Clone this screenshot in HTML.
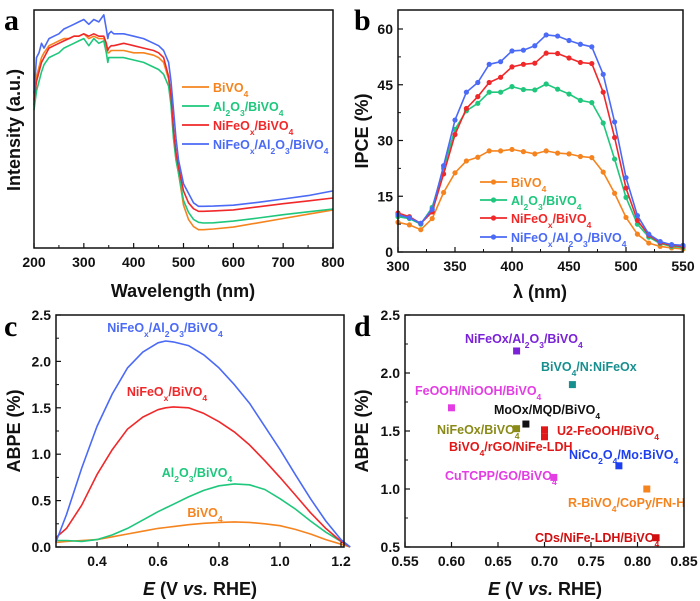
<!DOCTYPE html>
<html><head><meta charset="utf-8"><style>
body{margin:0;background:#fff}
svg{display:block;font-family:"Liberation Sans",Arial,sans-serif;font-weight:bold}
.tk{font-size:14px}
.tt{font-size:18px}
.lg{font-size:12.5px}
.pl{font-family:"Liberation Serif",serif;font-size:30px;font-weight:bold}
</style></head><body>
<svg id="fig" width="700" height="601" viewBox="0 0 700 601">
<text class="pl" x="4" y="30">a</text>
<text class="pl" x="354" y="30">b</text>
<text class="pl" x="4" y="336">c</text>
<text class="pl" x="354" y="336">d</text>
</svg>
<script>
// ---- Panel a data ----
const aX=[200,205,210,215,220,230,240,250,260,270,280,290,300,310,320,330,340,345,348,350,355,360,380,400,420,440,450,460,470,475,480,485,490,500,510,520,530,540,560,600,650,700,750,800];
const aBlue=[65,80,82,86,84,88,89,90,92,93,94,95,96,94,96,95,98,92,88,90,91,90,90,89,88,86,85,83,78,70,58,46,37,27,23,19,17.5,17.5,17.6,18,19.2,20.6,22,24];
const aRed=[62,70,74,78,80,84,85,86,87,88,89,89,90,89,90,89,89,86,83,84,85,85,86,85,84,83,82,80,72,64,50,40,34,24,19,16.5,15.4,15.4,15.6,16,17.3,18.6,19.8,21];
const aOrange=[60,72,76,80,82,85,86,87,88,88,89,89,90,88,89,88,88,84,82,82,83,83,83,82,82,81,80,78,71,62,47,37,31.5,18,12,9,7.7,7.7,8,8.8,10.6,12.4,14.2,16];
const aGreen=[58,66,70,74,77,80,81,82,84,85,86,87,88,85,88,86,87,82,78,80,80,80,80,79,78,76,75,73,68,60,46,37,31.5,20,15,12,10.8,10.5,10.6,11.3,12.6,14,15.2,16.4];
const aTicks=[200,300,400,500,600,700,800];
// ---- Panel b data ----
const bX=[300,310,320,330,340,350,360,370,380,390,400,410,420,430,440,450,460,470,480,490,500,510,520,530,540,550];
const bOrange=[8,7.3,6,9,16,21.3,24.5,25.5,27.2,27.2,27.6,27,26.4,27.2,26.6,26.4,25.7,25.4,21.5,15.8,9.3,4.8,2.4,1.5,1.1,0.8];
const bGreen=[9.5,9,7.5,12,22.5,33,38,40,43,43,44.5,43.7,43.6,45.2,43.8,42.5,40.8,40.2,34.7,25,14.7,7.5,4,2.3,1.5,1.2];
const bRed=[10.5,9.5,7.7,10.8,21,31.6,38.6,41.8,45.6,47,49.8,50.5,50.8,53.5,53.4,52.2,51,50.7,43,30.8,17.2,8.5,4.5,2.5,1.8,1.5];
const bBlue=[10,9.2,7.7,11.5,23.2,35.5,43,45.6,50.5,51.2,54.1,54.3,55.5,58.4,58.1,56.9,55.9,55.2,47.8,35,20,9.8,4.8,2.8,2,1.8];
const bXTicks=[300,350,400,450,500,550];
const bYTicks=[0,15,30,45,60];
// ---- Panel c data ----
const cX=[0.265,0.3,0.35,0.4,0.45,0.5,0.55,0.6,0.625,0.65,0.7,0.75,0.8,0.85,0.9,0.95,1.0,1.05,1.1,1.15,1.2,1.23];
const cBlue=[0.05,0.35,0.85,1.3,1.65,1.93,2.1,2.2,2.22,2.21,2.17,2.07,1.93,1.75,1.55,1.3,1.05,0.78,0.52,0.28,0.08,0];
const cRed=[0.1,0.2,0.45,0.78,1.05,1.27,1.4,1.48,1.5,1.51,1.5,1.44,1.35,1.24,1.1,0.93,0.75,0.56,0.37,0.2,0.06,0];
const cGreen=[0.07,0.07,0.06,0.08,0.13,0.2,0.29,0.38,0.42,0.46,0.54,0.61,0.66,0.68,0.67,0.62,0.52,0.41,0.28,0.16,0.06,0];
const cOrange=[0.05,0.06,0.07,0.08,0.11,0.14,0.17,0.2,0.21,0.22,0.24,0.255,0.265,0.27,0.265,0.25,0.23,0.19,0.14,0.08,0.03,0];
const cXTicks=[0.4,0.6,0.8,1.0,1.2];
const cYTicks=[0,0.5,1.0,1.5,2.0,2.5];
// ---- Panel d data ----
const dNames=["NiFeOx/Al2O3/BiVO4","BiVO4/N:NiFeOx","FeOOH/NiOOH/BiVO4","MoOx/MQD/BiVO4","NiFeOx/BiVO4","U2-FeOOH/BiVO4","BiVO4/rGO/NiFe-LDH","NiCo2O4/Mo:BiVO4","CuTCPP/GO/BiVO4","R-BiVO4/CoPy/FN-H","CDs/NiFe-LDH/BiVO4"];
const dE=[0.67,0.73,0.60,0.68,0.67,0.70,0.70,0.78,0.71,0.81,0.82];
const dABPE=[2.19,1.90,1.70,1.56,1.52,1.51,1.45,1.20,1.10,1.00,0.58];
const dXTicks=[0.55,0.60,0.65,0.70,0.75,0.80,0.85];
const dYTicks=[0.5,1.0,1.5,2.0,2.5];

const NS="http://www.w3.org/2000/svg";
const svg=document.getElementById('fig');
function mk(tag,attrs,parent,txt){const e=document.createElementNS(NS,tag);for(const k in attrs)e.setAttribute(k,attrs[k]);if(txt!==undefined)e.innerHTML=txt;(parent||svg).appendChild(e);return e;}
function lin(d0,d1,p0,p1){return v=>p0+(v-d0)/(d1-d0)*(p1-p0);}
const C={o:"#f5841f",g:"#1ec77c",r:"#f0282a",b:"#4b6af5",k:"#111"};

function frame(name,x0,y0,x1,y1){
  const r=mk('rect',{x:x0,y:y0,width:x1-x0,height:y1-y0,fill:'none',stroke:'#111','stroke-width':1.5});
  
  
}
function xAxis(name,ticks,sx,y0,y1,fmt,minor){
  const g=mk('g',{});
  
  
  ticks.forEach((t,i)=>{
    const x=sx(t);
    mk('line',{x1:x,x2:x,y1:y1,y2:y1-5,stroke:'#111','stroke-width':1.2},g);
    const tx=mk('text',{x:x,y:y1+19,'text-anchor':'middle',class:'tk',fill:'#111'},g,fmt(t));
    
    
    if(minor&&i<ticks.length-1){const xm=sx((t+ticks[i+1])/2);mk('line',{x1:xm,x2:xm,y1:y1,y2:y1-3,stroke:'#111','stroke-width':1},g);}
  });
}
function yAxis(name,ticks,sy,x0,fmt){
  const g=mk('g',{});
  
  
  ticks.forEach((t,i)=>{
    const y=sy(t);
    mk('line',{x1:x0,x2:x0+5,y1:y,y2:y,stroke:'#111','stroke-width':1.2},g);
    const tx=mk('text',{x:x0-5,y:y+5,'text-anchor':'end',class:'tk',fill:'#111'},g,fmt(t));
    
    
    if(i<ticks.length-1){const ym=sy((t+ticks[i+1])/2);mk('line',{x1:x0,x2:x0+3,y1:ym,y2:ym,stroke:'#111','stroke-width':1},g);}
  });
}
function series(name,xs,ys,sx,sy,color,w,dots){
  const d=xs.map((x,i)=>(i?'L':'M')+sx(x).toFixed(1)+','+sy(ys[i]).toFixed(1)).join('');
  const p=mk('path',{d:d,fill:'none',stroke:color,'stroke-width':w||1.6,'stroke-linejoin':'round'});
  
  
  if(dots) xs.forEach((x,i)=>{
    const c=mk('circle',{cx:sx(x),cy:sy(ys[i]),r:2.6,fill:color});
    
    
  });
}
function title(name,txt,x,y,rot){
  const t=mk('text',{x:x,y:y,'text-anchor':'middle',class:'tt',fill:'#111',transform:rot?`rotate(-90 ${x} ${y})`:''},svg,txt);
  
  
}
function legend(name,x,y,color,html,dot){
  const g=mk('g',{});
  
  
  mk('line',{x1:x,x2:x+27,y1:y,y2:y,stroke:color,'stroke-width':1.8},g);
  if(dot)mk('circle',{cx:x+13.5,cy:y,r:2.6,fill:color},g);
  mk('text',{x:x+31,y:y+5,class:'lg',fill:color},g,html);
}
function lbl(name,x,y,color,html,anchor){
  const t=mk('text',{x:x,y:y,class:'lg',fill:color,'text-anchor':anchor||'start'},svg,html);
  
  
}
const S=s=>`<tspan font-size="8.5" baseline-shift="sub">${s}</tspan>`;

// Panel a
{const sx=lin(200,800,34,333), sy=lin(0,100,248,10);
 series('a-bivo4',aX,aOrange,sx,sy,C.o);
 series('a-al2o3-bivo4',aX,aGreen,sx,sy,C.g);
 series('a-nifeox-bivo4',aX,aRed,sx,sy,C.r);
 series('a-nifeox-al2o3-bivo4',aX,aBlue,sx,sy,C.b);
 frame('panel-a',34,10,333,248);
 xAxis('panel-a',aTicks,sx,10,248,t=>t,true);
 title('a-x-axis-title','Wavelength (nm)',183,297);
 title('a-y-axis-title','Intensity (a.u.)',20,130,true);
 legend('a-legend-bivo4',182,87,C.o,'BiVO'+S('4'));
 legend('a-legend-al2o3-bivo4',182,106,C.g,'Al'+S('2')+'O'+S('3')+'/BiVO'+S('4'));
 legend('a-legend-nifeox-bivo4',182,125,C.r,'NiFeO'+S('x')+'/BiVO'+S('4'));
 legend('a-legend-nifeox-al2o3-bivo4',182,144,C.b,'NiFeO'+S('x')+'/Al'+S('2')+'O'+S('3')+'/BiVO'+S('4'));
}
// Panel b
{const sx=lin(300,550,398,683), sy=lin(0,60,252,29);
 series('b-bivo4',bX,bOrange,sx,sy,C.o,1.6,true);
 series('b-al2o3-bivo4',bX,bGreen,sx,sy,C.g,1.6,true);
 series('b-nifeox-bivo4',bX,bRed,sx,sy,C.r,1.6,true);
 series('b-nifeox-al2o3-bivo4',bX,bBlue,sx,sy,C.b,1.6,true);
 frame('panel-b',398,10,683,252);
 xAxis('panel-b',bXTicks,sx,10,252,t=>t,true);
 yAxis('panel-b',bYTicks,sy,398,t=>t);
 title('b-x-axis-title','λ (nm)',540,298);
 title('b-y-axis-title','IPCE (%)',368,131,true);
 legend('b-legend-bivo4',480,182,C.o,'BiVO'+S('4'),true);
 legend('b-legend-al2o3-bivo4',480,200,C.g,'Al'+S('2')+'O'+S('3')+'/BiVO'+S('4'),true);
 legend('b-legend-nifeox-bivo4',480,218,C.r,'NiFeO'+S('x')+'/BiVO'+S('4'),true);
 legend('b-legend-nifeox-al2o3-bivo4',480,237,C.b,'NiFeO'+S('x')+'/Al'+S('2')+'O'+S('3')+'/BiVO'+S('4'),true);
}
// Panel c
{const sx=lin(0.4,1.2,97,341), sy=lin(0,2.5,547,315);
 series('c-bivo4',cX,cOrange,sx,sy,C.o);
 series('c-al2o3-bivo4',cX,cGreen,sx,sy,C.g);
 series('c-nifeox-bivo4',cX,cRed,sx,sy,C.r);
 series('c-nifeox-al2o3-bivo4',cX,cBlue,sx,sy,C.b);
 frame('panel-c',56,315,344,547);
 xAxis('panel-c',cXTicks,sx,315,547,t=>t.toFixed(1),true);
 yAxis('panel-c',cYTicks,sy,56,t=>t.toFixed(1));
 title('c-x-axis-title','<tspan font-style="italic">E</tspan> (V <tspan font-style="italic">vs.</tspan> RHE)',200,595);
 title('c-y-axis-title','ABPE (%)',20,431,true);
 lbl('c-label-nifeox-al2o3-bivo4',165,332,C.b,'NiFeO'+S('x')+'/Al'+S('2')+'O'+S('3')+'/BiVO'+S('4'),'middle');
 lbl('c-label-nifeox-bivo4',167,396,C.r,'NiFeO'+S('x')+'/BiVO'+S('4'),'middle');
 lbl('c-label-al2o3-bivo4',197,477,C.g,'Al'+S('2')+'O'+S('3')+'/BiVO'+S('4'),'middle');
 lbl('c-label-bivo4',205,517,C.o,'BiVO'+S('4'),'middle');
}
// Panel d
{const sx=lin(0.55,0.85,405,684), sy=lin(0.5,2.5,547,315);
 const cols=["#7a22d8","#188f8f","#e33de3","#111","#8a8a18","#e01818","#e01818","#1d3ff0","#e33de3","#f5841f","#d01010"];
 const lx=[465,541,415,494,437,557,449,569,445,568,535];
 const ly=[343,371,395,414,434,435,451,459,480,507,542];
 const html=["NiFeOx/Al"+S('2')+"O"+S('3')+"/BiVO"+S('4'),"BiVO"+S('4')+"/N:NiFeOx","FeOOH/NiOOH/BiVO"+S('4'),"MoOx/MQD/BiVO"+S('4'),"NiFeOx/BiVO"+S('4'),"U2-FeOOH/BiVO"+S('4'),"BiVO"+S('4')+"/rGO/NiFe-LDH","NiCo"+S('2')+"O"+S('4')+"/Mo:BiVO"+S('4'),"CuTCPP/GO/BiVO"+S('4'),"R-BiVO"+S('4')+"/CoPy/FN-H","CDs/NiFe-LDH/BiVO"+S('4')];
 dE.forEach((e,i)=>{
   const r=mk('rect',{x:sx(e)-3.5,y:sy(dABPE[i])-3.5,width:7,height:7,fill:cols[i]});
   
   
   lbl('d-label',lx[i],ly[i],cols[i],html[i]);
 });
 frame('panel-d',405,315,684,547);
 xAxis('panel-d',dXTicks,sx,315,547,t=>t.toFixed(2),false);
 yAxis('panel-d',dYTicks,sy,405,t=>t.toFixed(1));
 title('d-x-axis-title','<tspan font-style="italic">E</tspan> (V <tspan font-style="italic">vs.</tspan> RHE)',545,595);
 title('d-y-axis-title','ABPE (%)',368,431,true);
}
</script>
</body></html>
